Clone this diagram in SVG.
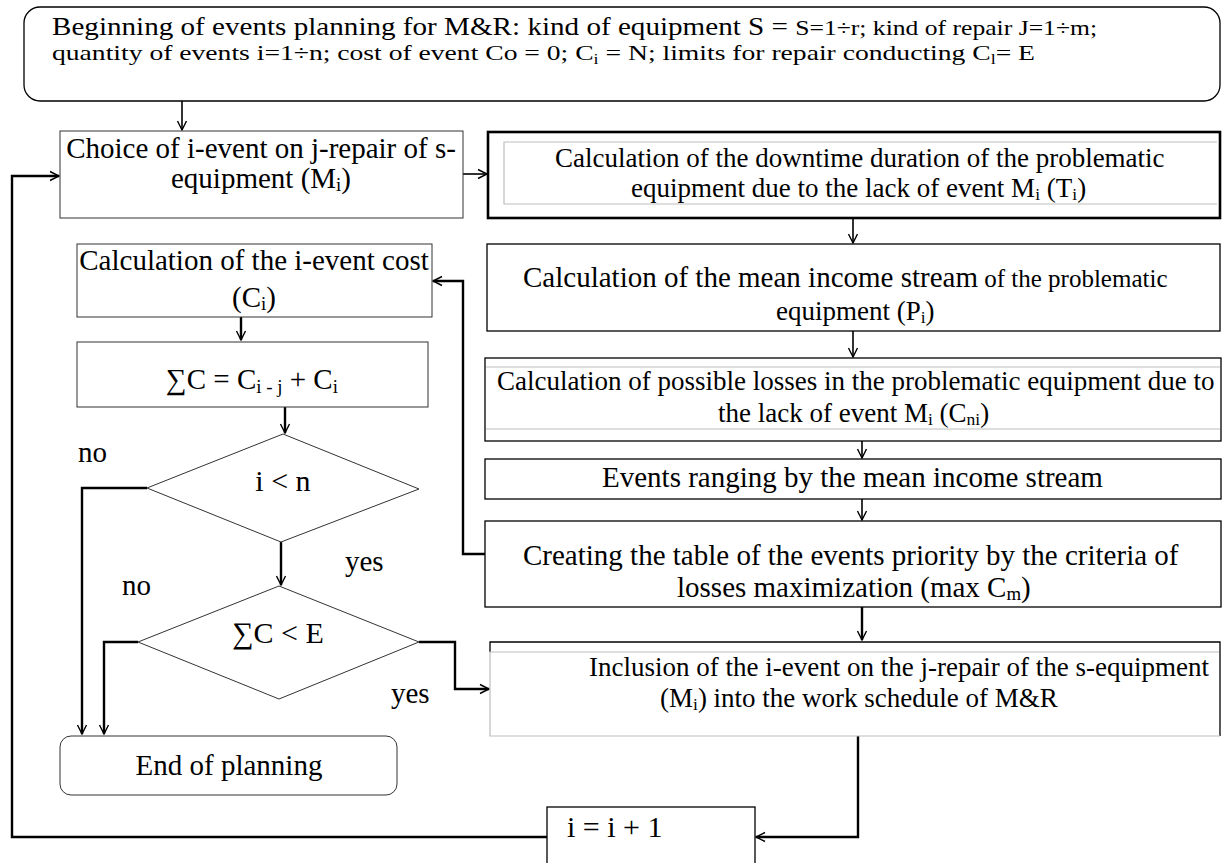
<svg xmlns="http://www.w3.org/2000/svg" width="1227" height="863" viewBox="0 0 1227 863">
<defs>
<style>
text{font-family:"Liberation Serif","Times New Roman",serif;fill:#000}
.box{fill:#fff;stroke:#000;stroke-width:1.3}
.thin{fill:#fff;stroke:#333;stroke-width:1}
.thick{fill:#fff;stroke:#000;stroke-width:2.6}
.gray{fill:none;stroke:#bdbdbd;stroke-width:1.2}
.blk{fill:none;stroke:#000;stroke-width:1.3}
.c{fill:none;stroke:#000;stroke-width:1.6;marker-end:url(#ah)}
.c2a{fill:none;stroke:#000;stroke-width:2.4;marker-end:url(#ah)}
.f29{font-size:29px}
.f27{font-size:27px}
.sub{font-size:0.65em}
</style>
<marker id="ah" markerUnits="userSpaceOnUse" markerWidth="12" markerHeight="12" refX="9" refY="5" orient="auto" overflow="visible">
<path d="M0,0.5 L9,5 L0,9.5" fill="none" stroke="#000" stroke-width="1.4"/>
</marker>
</defs>

<g id="connectors">
<path class="c" d="M182,101 V130"/>
<path class="c" d="M463,174 H487"/>
<path class="c" d="M853,218 V243"/>
<path class="c" d="M853,331 V357"/>
<path class="c" d="M862,441 V458"/>
<path class="c" d="M862,499 V520"/>
<path class="c2a" d="M862,607 V640"/>
<path class="c2a" d="M485,554 H463 V281 H433"/>
<path class="c2a" d="M241,317 V340"/>
<path class="c2a" d="M285,407 V433"/>
<path class="c2a" d="M147,488 H82 V734"/>
<path class="c2a" d="M281,542 V585"/>
<path class="c2a" d="M138,642 H104 V734"/>
<path class="c2a" d="M419,642 H455 V689 H489"/>
<path class="c2a" d="M858,736 V837 H756"/>
<path class="c2a" d="M547,837 H12 V176 H59"/>
</g>

<g id="start">
<rect class="box" x="24" y="7" width="1196" height="94" rx="16"/>
<text x="52" y="35" textLength="1045" lengthAdjust="spacingAndGlyphs"><tspan font-size="25">Beginning of events planning for M&amp;R: kind of equipment S = </tspan><tspan font-size="22">S=1÷r; kind of repair J=1÷m;</tspan></text>
<text x="52" y="60" font-size="22" textLength="983" lengthAdjust="spacingAndGlyphs">quantity of events i=1÷n; cost of event Co = 0; C<tspan class="sub" dy="4">i</tspan><tspan dy="-4"> = N; limits for repair conducting C</tspan><tspan class="sub" dy="4">l</tspan><tspan dy="-4">= E</tspan></text>
</g>

<g id="choice">
<rect class="thin" x="60" y="131" width="403" height="87"/>
<text class="f29" x="261" y="158" text-anchor="middle">Choice of i-event on j-repair of s-</text>
<text class="f29" x="261" y="188" text-anchor="middle">equipment (M<tspan class="sub" dy="3">i</tspan><tspan dy="-3">)</tspan></text>
</g>

<g id="downtime">
<rect class="thick" x="488" y="132" width="732" height="86"/>
<path class="gray" d="M1217,142 H504 V204 H1217"/>
<text class="f27" x="555" y="167">Calculation of the downtime duration of the problematic</text>
<text class="f27" x="631" y="197">equipment due to the lack of event M<tspan class="sub" dy="3">i</tspan><tspan dy="-3"> (T</tspan><tspan class="sub" dy="3">i</tspan><tspan dy="-3">)</tspan></text>
</g>

<g id="income">
<rect class="box" x="487" y="244" width="733" height="87"/>
<text x="523" y="287"><tspan class="f29">Calculation of the mean income stream</tspan><tspan font-size="25"> of the problematic</tspan></text>
<text class="f27" x="776" y="320">equipment (P<tspan class="sub" dy="3">i</tspan><tspan dy="-3">)</tspan></text>
</g>

<g id="losses">
<rect class="box" x="485" y="358" width="736" height="83"/>
<path class="gray" d="M486,367 H1220 M486,429 H1220"/>
<text class="f27" x="497" y="390">Calculation of possible losses in the problematic equipment due to</text>
<text class="f27" x="718" y="422">the lack of event M<tspan class="sub" dy="3">i</tspan><tspan dy="-3"> (C</tspan><tspan class="sub" dy="3">ni</tspan><tspan dy="-3">)</tspan></text>
</g>

<g id="ranging">
<rect class="box" x="485" y="459" width="736" height="40"/>
<text class="f29" x="602" y="487">Events ranging by the mean income stream</text>
</g>

<g id="priority">
<rect class="box" x="485" y="521" width="736" height="86"/>
<text class="f29" x="523" y="565">Creating the table of the events priority by the criteria of</text>
<text class="f29" x="677" y="597">losses maximization (max C<tspan class="sub" dy="3">m</tspan><tspan dy="-3">)</tspan></text>
</g>

<g id="inclusion">
<rect x="490" y="642" width="730" height="94" fill="#fff" stroke="none"/>
<path class="blk" d="M490,652 V642 H1220 V736"/>
<path class="gray" d="M1219,652 H490 V736 H1220"/>
<text class="f27" x="589" y="676">Inclusion of the i-event on the j-repair of the s-equipment</text>
<text class="f27" x="660" y="707">(M<tspan class="sub" dy="3">i</tspan><tspan dy="-3">) into the work schedule of M&amp;R</tspan></text>
</g>

<g id="cost">
<rect class="thin" x="77" y="244" width="355" height="73"/>
<text class="f29" x="254" y="270" text-anchor="middle">Calculation of the i-event cost</text>
<text class="f29" x="254" y="307" text-anchor="middle">(C<tspan class="sub" dy="3">i</tspan><tspan dy="-3">)</tspan></text>
</g>

<g id="sum">
<rect class="thin" x="77" y="342" width="351" height="65"/>
<text class="f29" x="252" y="389" text-anchor="middle">∑C = C<tspan class="sub" dy="4">i - j</tspan><tspan dy="-4"> + C</tspan><tspan class="sub" dy="4">i</tspan></text>
</g>

<g id="check-n">
<polygon class="thin" points="283,434 419,489 281,542 147,488"/>
<text x="283" y="491" font-size="30" text-anchor="middle">i &lt; n</text>
</g>

<g id="check-e">
<polygon class="thin" points="279,586 419,642 279,699 138,642"/>
<text x="278" y="643" font-size="30" text-anchor="middle">∑C &lt; E</text>
</g>

<g id="end">
<rect class="thin" x="60" y="736" width="337" height="59" rx="11"/>
<text class="f29" x="229" y="775" text-anchor="middle">End of planning</text>
</g>

<g id="increment">
<rect class="box" x="547" y="807" width="208" height="70"/>
<text x="567" y="837" font-size="30">i = i + 1</text>
</g>

<g id="labels" class="f29">
<text x="78" y="462">no</text>
<text x="345" y="571">yes</text>
<text x="122" y="595">no</text>
<text x="391" y="703">yes</text>
</g>
</svg>
